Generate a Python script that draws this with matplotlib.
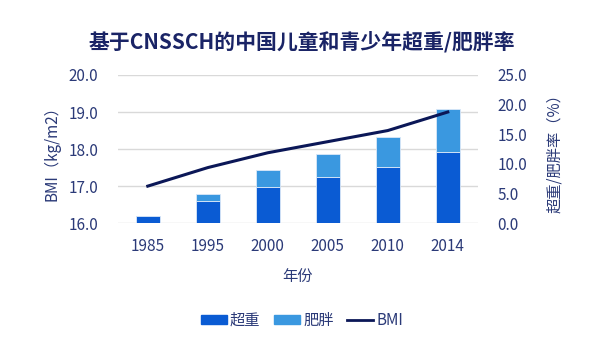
import numpy as np
import matplotlib.pyplot as plt
from matplotlib.patches import Patch
from matplotlib.lines import Line2D

plt.rcParams['font.family'] = ['Noto Sans CJK SC', 'DejaVu Sans']

years = ['1985', '1995', '2000', '2005', '2010', '2014']
overweight = [1.2, 3.8, 6.1, 7.8, 9.4, 12.0]
obese = [0.0, 1.1, 2.8, 3.8, 5.1, 7.2]
bmi = [17.0, 17.5, 17.9, 18.2, 18.5, 19.0]

text_c = '#2b3a78'
c_ow = '#0a5bd3'
c_ob = '#3a98e0'
c_line = '#0b1757'

fig = plt.figure(figsize=(6.04, 3.52), dpi=100)
ax = fig.add_axes([0.195, 0.366, 0.596, 0.421])
ax2 = ax.twinx()

x = np.arange(len(years))

# left axis: BMI scale + grid
ax.set_ylim(16, 20)
ax.set_yticks(np.arange(16, 20.1, 1))
ax.set_yticklabels([f'{v:.1f}' for v in np.arange(16, 20.1, 1)])
ax.set_xlim(-0.5, len(years) - 0.5)
ax.set_xticks(x)
ax.set_xticklabels(years)
ax.yaxis.grid(True, color='#d9d9d9', linewidth=1)

# right axis: percent bars
ax2.bar(x, overweight, width=0.4, color=c_ow, edgecolor='#dbe8f8', linewidth=0.6)
ax2.bar(x[1:], obese[1:], width=0.4, bottom=overweight[1:], color=c_ob,
        edgecolor='#dbe8f8', linewidth=0.6)
# BMI line drawn in the top axes but using the left scale
ax2.plot(x, bmi, color=c_line, linewidth=2.2, transform=ax.transData)
ax2.set_ylim(0, 25)
ax2.set_xlim(-0.5, len(years) - 0.5)
ax2.set_yticks(np.arange(0, 26, 5))
ax2.set_yticklabels([f'{v:.1f}' for v in np.arange(0, 26, 5)])

for a in (ax, ax2):
    for s in a.spines.values():
        s.set_visible(False)
    a.tick_params(axis='y', length=0, labelsize=11, colors=text_c, pad=14)
ax.tick_params(axis='x', length=0, labelsize=11, colors=text_c, pad=11)

ax.set_ylabel('BMI（kg/m2）', color=text_c, fontsize=11, labelpad=6)
ax2.set_ylabel('超重/肥胖率（%）', color=text_c, fontsize=11, labelpad=14)
ax.set_xlabel('年份', color=text_c, fontsize=11, labelpad=9)

fig.text(0.5, 0.88, '基于CNSSCH的中国儿童和青少年超重/肥胖率', ha='center', va='center',
         fontsize=15, fontweight='bold', color='#1a2466')

handles = [Patch(color=c_ow), Patch(color=c_ob), Line2D([], [], color=c_line, linewidth=2)]
fig.legend(handles, ['超重', '肥胖', 'BMI'], loc='center', bbox_to_anchor=(0.5, 0.09),
           ncol=3, frameon=False, fontsize=11, labelcolor=text_c,
           handlelength=1.7, handleheight=0.6, handletextpad=0.2, columnspacing=0.9)

fig.savefig('out.png', dpi=100)
